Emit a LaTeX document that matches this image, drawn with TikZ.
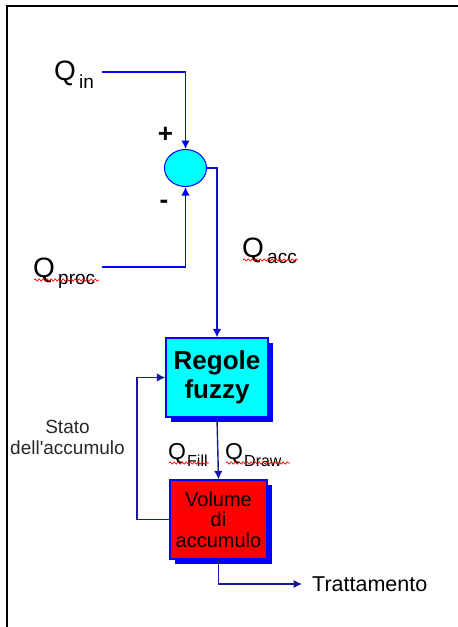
\documentclass[tikz,border=0pt]{standalone}
\usepackage{fontspec}
\setmainfont{Liberation Sans}
\usetikzlibrary{arrows.meta,shapes.geometric,shadows,decorations.pathmorphing}
\definecolor{lineblue}{RGB}{0,0,255}
\definecolor{midblue}{RGB}{16,16,200}
\definecolor{navy}{RGB}{26,26,150}
\definecolor{boxcyan}{RGB}{0,255,255}
\definecolor{boxred}{RGB}{255,0,0}
\definecolor{labelgray}{RGB}{40,40,40}
\tikzset{
  conn/.style={line width=1.4pt,-{Latex[length=8.5pt,width=8.5pt]}},
  qbig/.style={inner sep=0pt,anchor=base west,font=\fontsize{28}{28}\selectfont},
  qsub/.style={inner sep=0pt,anchor=base west,font=\fontsize{19}{19}\selectfont},
  qmid/.style={inner sep=0pt,anchor=base west,font=\fontsize{23}{23}\selectfont},
  qsmall/.style={inner sep=0pt,anchor=base west,font=\fontsize{16}{16}\selectfont},
  lbl/.style={inner sep=0pt,anchor=base,font=\fontsize{19}{19}\selectfont,text=labelgray},
  spell/.style={red,line width=0.7pt,decorate,decoration={snake,amplitude=1.1pt,segment length=4pt}},
  boxshadow/.style={drop shadow={shadow xshift=5pt,shadow yshift=-5pt,fill=lineblue,opacity=1}}
}
\begin{document}
\begin{tikzpicture}[x=1pt,y=-1pt]
\useasboundingbox (0,0) rectangle (458,627);
% frame
\draw[line width=2.4pt,black] (7,627) -- (7,6) -- (458,6);

% summing junction
\node[ellipse,draw=lineblue,line width=1pt,fill=boxcyan,minimum width=42pt,minimum height=37pt,inner sep=0pt] (sum) at (185.5,168) {};

% blocks
\node[rectangle,draw=lineblue,line width=1.2pt,fill=boxcyan,boxshadow,minimum width=102pt,minimum height=79pt,inner sep=0pt,align=center,font=\fontsize{26}{29}\selectfont\bfseries] (regole) at (217,377.5) {Regole\\fuzzy};
\node[rectangle,draw=lineblue,line width=1.2pt,fill=boxred,boxshadow,minimum width=97pt,minimum height=79pt,inner sep=0pt,align=center,font=\fontsize{20}{20.5}\selectfont] (volume) at (218.5,519.5) {Volume\\di\\accumulo};

% coordinates
\coordinate (qinstart) at (102,72);
\coordinate (qprocstart) at (102,267);
\coordinate (fbcorner) at (137,519.5);
\coordinate (outcorner) at (218.5,584);
\coordinate (outend) at (302,584);

% connectors
\draw[conn,lineblue] (qinstart) -| (sum.north);
\draw[conn,lineblue] (qprocstart) -| (sum.south);
\draw[conn,midblue] (sum.east) -| (regole.north);
\draw[conn,navy] (regole.south) -- (volume.north);
\draw[conn,navy] (volume.west) -- (fbcorner) |- (regole.west);
\draw[conn,navy] (volume.south) -- (outcorner) -- (outend);

% signs
\node[inner sep=0pt,font=\fontsize{26}{26}\selectfont\bfseries] (plus) at (165.5,134.5) {+};
\node[inner sep=0pt,font=\fontsize{26}{26}\selectfont\bfseries] (minus) at (164,204.5) {-};

% labels
\node[qbig] (qin) at (54,80) {Q};
\node[qsub] (qinsub) at (79,88) {in};
\node[qbig] (qproc) at (33,277) {Q};
\node[qsub] (qprocsub) at (58,284) {proc};
\node[qbig] (qacc) at (242,257) {Q};
\node[qsub] (qaccsub) at (267,263) {acc};
\node[qmid] (qfill) at (168,459) {Q};
\node[qsmall] (qfillsub) at (187,466) {Fill};
\node[qmid] (qdraw) at (225,459) {Q};
\node[qsmall] (qdrawsub) at (244,466) {Draw};

\node[lbl] (stato1) at (67.5,433) {Stato};
\node[lbl] (stato2) at (67.5,454) {dell\textquotesingle accumulo};
\node[inner sep=0pt,anchor=west,font=\fontsize{21.5}{21.5}\selectfont] (tratt) at (312,584) {Trattamento};

% spell-check underlines
\draw[spell] (34,280) -- (99,280);
\draw[spell] (243,260) -- (298,260);
\draw[spell] (169,463) -- (209,463);
\draw[spell] (226,463) -- (290,463);
\end{tikzpicture}
\end{document}
